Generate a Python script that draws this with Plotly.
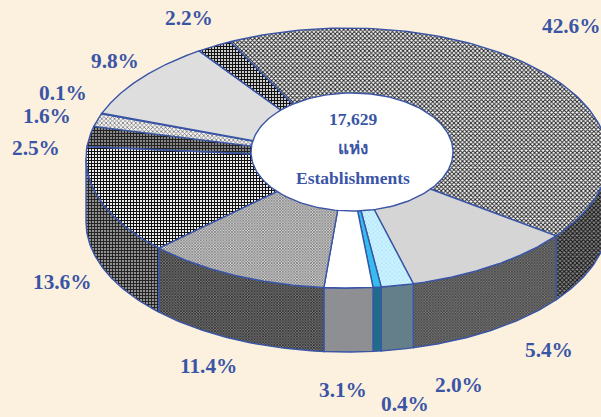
import numpy as np
import plotly.graph_objects as go

# Printed labels, clockwise from the large slice
labels = ["42.6%", "5.4%", "2.0%", "0.4%", "3.1%", "11.4%", "13.6%", "2.5%", "1.6%", "0.1%", "9.8%", "2.2%"]
# Drawn shares as measured on the picture (the 5.4% slice is drawn wider than its label)
shares = [42.6, 10.7, 2.0, 0.5, 3.0, 11.4, 13.6, 2.5, 1.6, 0.1, 9.8, 2.2]
label_x = [571, 549, 459, 405, 343, 208, 62, 36, 47, 63, 115, 189]
label_y = [26, 350, 385, 404, 390, 366, 282, 148, 116, 93, 61, 18]

top_bg = ["#ffffff", "#f2f2f2", "#CFF2FF", "#35BDEF", "#ffffff", "#d0d0d0", "#ffffff", "#888888", "#f4f4f4", "#555555", "#efefef", "#cccccc"]
top_fg = ["#222222", "#a8a8a8", "#A8E4FB", "#35BDEF", "#ffffff", "#666666", "#111111", "#222222", "#777777", "#555555", "#c4c4c4", "#111111"]
top_shape = ["x", ".", "x", "", "", "x", "+", "+", "x", "", ".", "+"]
top_solid = [0.55, 0.4, 0.4, 0, 0, 0.5, 0.62, 0.55, 0.45, 0, 0.4, 0.55]
top_size = [3, 2, 3, 0, 0, 2, 3, 3, 3, 0, 2, 3]

wall_bg = ["#888888", "#777777", "#66808C", "#206C8C", "#8E8F93", "#777777", "#909090"]
wall_fg = ["#111111", "#333333", "#5F7A85", "#206C8C", "#8E8F93", "#222222", "#1a1a1a"]
wall_shape = ["x", "x", "x", "", "", "x", "+"]
wall_solid = [0.55, 0.5, 0.4, 0, 0, 0.55, 0.5]
wall_size = [3, 2, 2, 0, 0, 2, 3]

CX, CY, RX, RY, DEPTH = 347, 158, 261, 130, 64
HX, HY, HRX, HRY = 352, 152, 101, 59
START = -26.6
INK = "#3A55A6"
PAPER = "#FCF1DE"

fig = go.Figure()
def px(t): return CX + RX * np.sin(np.radians(t))
def py(t): return CY - RY * np.cos(np.radians(t))
def pat(shape, fg, bg, solid, size):
    return dict(shape=shape, fgcolor=fg, bgcolor=bg, size=size, solidity=solid, fillmode="replace")

edges = START + np.cumsum([0] + shares) * 3.6

# side wall
for i in range(len(shares)):
    a, b = max(edges[i], 90), min(edges[i + 1], 270)
    if b <= a:
        continue
    t = np.linspace(a, b, 60)
    x = np.r_[px(t), px(t)[::-1], px(t)[0]]
    y = np.r_[py(t), py(t)[::-1] + DEPTH, py(t)[0]]
    kw = dict(fillpattern=pat(wall_shape[i], wall_fg[i], wall_bg[i], wall_solid[i], wall_size[i])) if wall_shape[i] else dict(fillcolor=wall_bg[i])
    fig.add_trace(go.Scatter(x=x, y=y, mode="lines", fill="toself", line=dict(color=INK, width=1.4),
                             hoverinfo="skip", showlegend=False, **kw))

# top face
for i in range(len(shares)):
    t = np.linspace(edges[i], edges[i + 1], 120)
    x = np.r_[CX, px(t), CX]
    y = np.r_[CY, py(t), CY]
    kw = dict(fillpattern=pat(top_shape[i], top_fg[i], top_bg[i], top_solid[i], top_size[i])) if top_shape[i] else dict(fillcolor=top_bg[i])
    fig.add_trace(go.Scatter(x=x, y=y, mode="lines", fill="toself", line=dict(color=INK, width=1.4),
                             hoverinfo="skip", showlegend=False, **kw))

# centre hole
t = np.linspace(0, 360, 200)
fig.add_trace(go.Scatter(x=HX + HRX * np.sin(np.radians(t)), y=HY - HRY * np.cos(np.radians(t)),
                         mode="lines", fill="toself", fillcolor="#ffffff", line=dict(color=INK, width=1.4),
                         hoverinfo="skip", showlegend=False))

for s, x, y in zip(labels, label_x, label_y):
    fig.add_annotation(x=x, y=y, text=f"<b>{s}</b>", showarrow=False, xanchor="center", yanchor="middle",
                       font=dict(family="Liberation Serif", size=21.3, color=INK))
for s, y, sz in [("17,629", 119, 17.5), ("แห่ง", 148, 17), ("Establishments", 178, 17.5)]:
    fig.add_annotation(x=353, y=y, text=f"<b>{s}</b>", showarrow=False, xanchor="center", yanchor="middle",
                       font=dict(family="Liberation Serif, Noto Sans, DejaVu Sans", size=sz, color=INK))

fig.update_xaxes(range=[0, 601], visible=False, fixedrange=True)
fig.update_yaxes(range=[417, 0], visible=False, fixedrange=True)
fig.update_layout(width=601, height=417, margin=dict(l=0, r=0, t=0, b=0), paper_bgcolor=PAPER, plot_bgcolor=PAPER,
                  showlegend=False)
fig.write_html("out.html", config=dict(displayModeBar=False),
               post_script="document.documentElement.style.background='%s';document.body.style.margin='0';document.body.style.overflow='hidden';" % PAPER)
